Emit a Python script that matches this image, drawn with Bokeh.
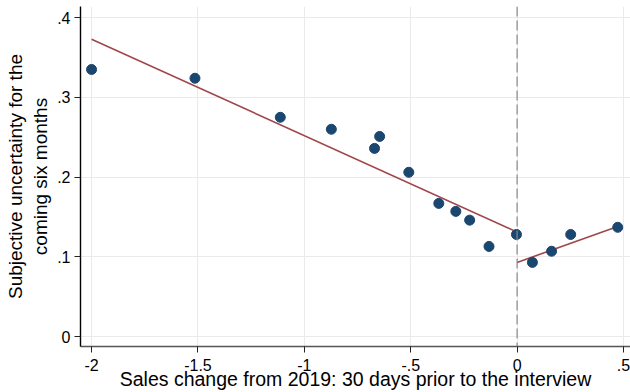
from bokeh.plotting import figure
from bokeh.models import ColumnDataSource, Range1d, FixedTicker, Span, CustomJSTickFormatter
from bokeh.embed import file_html
from bokeh.resources import INLINE

# Binned scatter: sales change vs. subjective uncertainty
sales_change = [-2.0, -1.514, -1.113, -0.873, -0.670, -0.646, -0.509, -0.368,
                -0.288, -0.223, -0.132, -0.003, 0.072, 0.162, 0.252, 0.473]
uncertainty = [0.335, 0.324, 0.275, 0.260, 0.236, 0.251, 0.206, 0.167,
               0.157, 0.146, 0.113, 0.128, 0.093, 0.107, 0.128, 0.137]

# Linear fits on each side of zero
fit_neg_x = [-2.0, 0.0]
fit_neg_y = [0.373, 0.131]
fit_pos_x = [0.0, 0.473]
fit_pos_y = [0.093, 0.138]

x_ticks = [-2, -1.5, -1, -0.5, 0, 0.5]
y_ticks = [0, 0.1, 0.2, 0.3, 0.4]

x_title = "Sales change from 2019: 30 days prior to the interview"
y_title = "Subjective uncertainty for the\ncoming six months"

FONT = "Liberation Sans"
DOT = "#1a476f"
FIT = "#a0464b"

p = figure(width=630, height=392, output_backend="svg", toolbar_location=None,
           x_range=Range1d(-2.052, 0.533), y_range=Range1d(-0.0125, 0.414),
           min_border_left=80, min_border_right=0, min_border_top=6,
           min_border_bottom=46)
p.outline_line_color = None
p.background_fill_color = "white"
p.border_fill_color = "white"

p.xgrid.ticker = FixedTicker(ticks=x_ticks)
p.ygrid.ticker = FixedTicker(ticks=y_ticks)
for g in (p.xgrid, p.ygrid):
    g.grid_line_color = "#eaeaea"
    g.grid_line_width = 1

src = ColumnDataSource(dict(x=sales_change, y=uncertainty))
p.line(fit_neg_x, fit_neg_y, line_color=FIT, line_width=1.6)
p.line(fit_pos_x, fit_pos_y, line_color=FIT, line_width=1.6)
p.scatter("x", "y", source=src, size=10, fill_color=DOT, line_color=DOT)

p.add_layout(Span(location=0, dimension="height", line_color="#888888",
                  line_dash="10 4", line_width=1.2))

fmt = CustomJSTickFormatter(code="""
    if (Math.abs(tick) < 1e-9) return "0";
    let s = String(Math.round(tick * 10) / 10);
    return s.replace(/^0\\./, ".").replace(/^-0\\./, "-.");
""")

xa = p.xaxis[0]
xa.ticker = FixedTicker(ticks=x_ticks)
xa.formatter = fmt
xa.axis_label = x_title
xa.axis_label_text_font = FONT
xa.axis_label_text_font_size = "19.5px"
xa.axis_label_text_font_style = "normal"
xa.axis_label_text_color = "black"
xa.axis_label_standoff = -6
xa.major_label_text_font = FONT
xa.major_label_text_font_size = "16px"
xa.major_label_text_color = "black"
xa.major_label_standoff = 6
xa.axis_line_color = "#555555"
xa.axis_line_width = 1.6
xa.major_tick_line_color = "#222222"
xa.major_tick_out = 6
xa.major_tick_in = 0
xa.minor_tick_line_color = None

ya = p.yaxis[0]
ya.ticker = FixedTicker(ticks=y_ticks)
ya.formatter = fmt
ya.axis_label = y_title
ya.axis_label_text_font = FONT
ya.axis_label_text_font_size = "19px"
ya.axis_label_text_font_style = "normal"
ya.axis_label_text_color = "black"
ya.axis_label_standoff = 3
ya.major_label_text_font = FONT
ya.major_label_text_font_size = "16px"
ya.major_label_text_color = "black"
ya.major_label_orientation = "horizontal"
ya.major_label_standoff = 4
ya.axis_line_color = "black"
ya.axis_line_width = 1.4
ya.major_tick_line_color = "#222222"
ya.major_tick_out = 6
ya.major_tick_in = 0
ya.minor_tick_line_color = None

open("out.html", "w").write(file_html(p, INLINE))
